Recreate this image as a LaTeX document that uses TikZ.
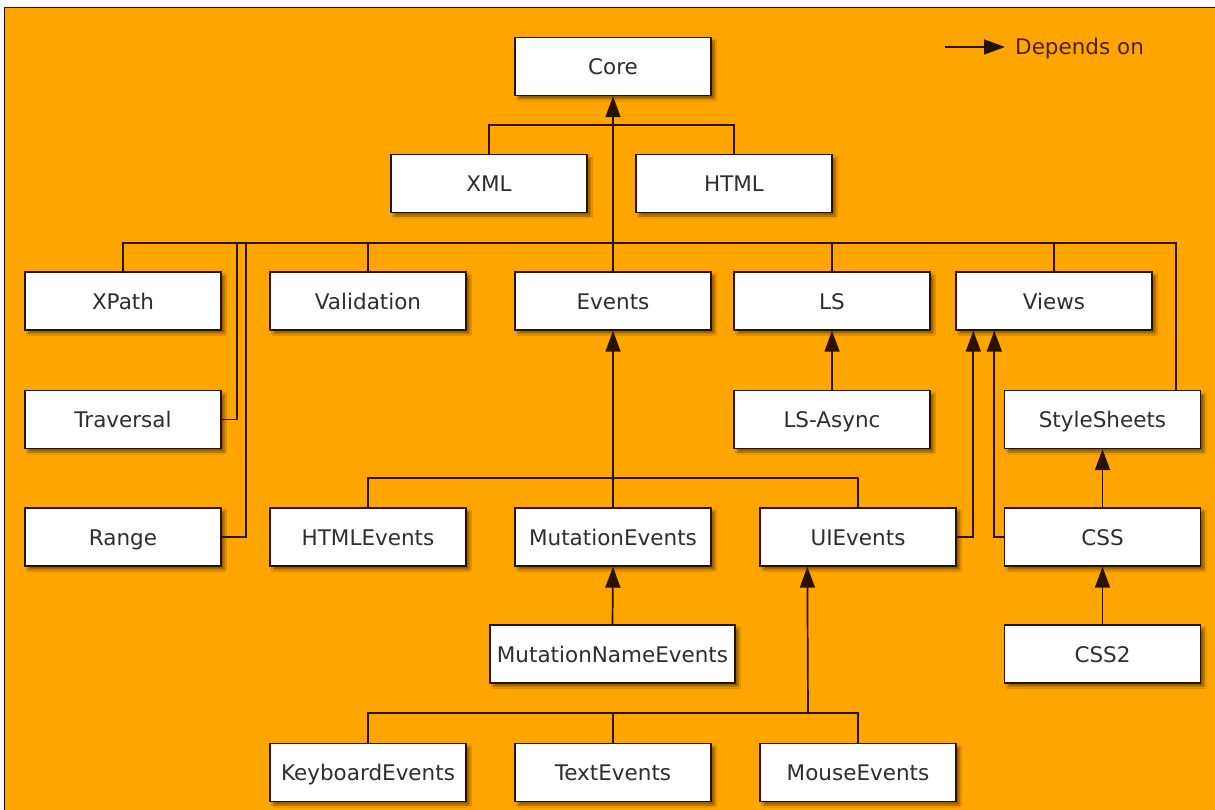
\documentclass[tikz,border=0pt]{standalone}
\usepackage{fontspec}
\setmainfont{DejaVu Sans}
\usetikzlibrary{arrows.meta,shadows.blur,calc}
\definecolor{bgorange}{HTML}{FFA500}
\definecolor{linecol}{HTML}{2A1200}
\definecolor{txtcol}{HTML}{2E2E2E}
\definecolor{legcol}{HTML}{4A2200}
\tikzset{
  box/.style={draw=linecol, line width=1.4pt, fill=white, minimum width=196pt, minimum height=58pt,
    inner sep=0pt, text=txtcol, font=\fontsize{21.5}{26}\selectfont, text height=16pt, text depth=0pt,
    blur shadow={shadow xshift=3.5pt, shadow yshift=-3.5pt, shadow blur steps=6, shadow opacity=45}},
  conn/.style={draw=linecol, line width=1.7pt},
  dep/.style={conn, -{Triangle[length=21pt,width=15pt]}}
}
\begin{document}
\begin{tikzpicture}[x=1pt,y=-1pt]
\useasboundingbox (0,0) rectangle (1215,810);
\fill[bgorange] (4,7) rectangle (1215,810);
\draw[linecol, line width=1.2pt] (4.5,810) -- (4.5,7.5) -- (1215,7.5);

% nodes
\node[box] (Core) at (613,66.5) {Core};
\node[box] (XML) at (489,183.5) {XML};
\node[box] (HTML) at (734,183.5) {HTML};

\node[box] (XPath) at (123,301) {XPath};
\node[box] (Validation) at (368,301) {Validation};
\node[box] (Events) at (613,301) {Events};
\node[box] (LS) at (832,301) {LS};
\node[box] (Views) at (1054,301) {Views};

\node[box] (Traversal) at (123,419.5) {Traversal};
\node[box] (LSAsync) at (832,419.5) {LS-Async};
\node[box] (StyleSheets) at (1102.5,419.5) {StyleSheets};

\node[box] (Range) at (123,537) {Range};
\node[box] (HTMLEvents) at (368,537) {HTMLEvents};
\node[box] (MutationEvents) at (613,537) {MutationEvents};
\node[box] (UIEvents) at (858,537) {UIEvents};
\node[box] (CSS) at (1102.5,537) {CSS};

\node[box, minimum width=245pt] (MutationNameEvents) at (612.5,654) {MutationNameEvents};
\node[box] (CSS2) at (1102.5,654) {CSS2};

\node[box] (KeyboardEvents) at (368,772.5) {KeyboardEvents};
\node[box] (TextEvents) at (613,772.5) {TextEvents};
\node[box] (MouseEvents) at (858,772.5) {MouseEvents};

% hub coordinates
\coordinate (h1) at (613,125);
\coordinate (h2) at (613,243);
\coordinate (tv) at (237,243);
\coordinate (rg) at (246,243);
\coordinate (h3) at (613,478);
\coordinate (h4) at (808,713);

% connectors
\draw[conn] (XML.north) |- (h1) -| (HTML.north);
\draw[conn] (XPath.north) |- (h2) -| ([xshift=-25pt]StyleSheets.north east);
\draw[conn] (Validation.north) -- (Validation.north |- h2);
\draw[conn] (LS.north) -- (LS.north |- h2);
\draw[conn] (Views.north) -- (Views.north |- h2);
\draw[conn] (Traversal.east) -| (tv);
\draw[conn] (Range.east) -| (rg);
\draw[dep] (Events.north) -- (Core.south);

\draw[dep] (LSAsync.north) -- (LS.south);
\draw[dep] (UIEvents.east) -| ([xshift=18pt]Views.south west);
\draw[dep] (CSS.west) -| ([xshift=39pt]Views.south west);
\draw[dep] (CSS.north) -- (StyleSheets.south);
\draw[dep] (CSS2.north) -- (CSS.south);

\draw[conn] (HTMLEvents.north) |- (h3) -| (UIEvents.north);
\draw[dep] (MutationEvents.north) -- (Events.south);
\draw[dep] (MutationNameEvents.north) -- (MutationEvents.south);

\draw[conn] (KeyboardEvents.north) |- (h4) -| (MouseEvents.north);
\draw[conn] (TextEvents.north) -- (TextEvents.north |- h4);
\draw[dep] (h4) -- ([xshift=48pt]UIEvents.south west);

% legend
\coordinate (la) at (945,47);
\node[anchor=west, inner sep=0pt, text=legcol, font=\fontsize{21.5}{26}\selectfont, text height=16pt, text depth=0pt] (legend) at (1015,47) {Depends on};
\draw[dep] (la) -- ([xshift=-10pt]legend.west);
\end{tikzpicture}
\end{document}
